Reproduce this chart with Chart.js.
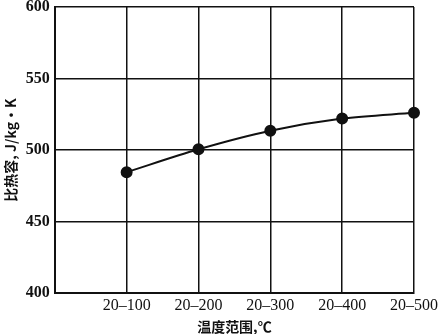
<!DOCTYPE html>
<html>
<head>
<meta charset="utf-8">
<script src="https://cdn.jsdelivr.net/npm/chart.js@4"></script>
<style>
  html, body { margin: 0; padding: 0; background: #fff; }
  #box { width: 440px; height: 334px; }
</style>
</head>
<body>
<div id="box"><canvas id="HeatChart"></canvas></div>
<script>
// temperature ranges (first slot is the empty left edge of the plot)
var ranges = ['', '20\u2013100', '20\u2013200', '20\u2013300', '20\u2013400', '20\u2013500'];
var heat = [null, 484.5, 500.5, 513.5, 522, 526];
var yTicks = [400, 450, 500, 550, 600];

var ctxheat = document.getElementById('HeatChart');
var HeatChart = new Chart(ctxheat, {
    type: 'line',
    data: {
        labels: ranges,
        datasets: [{
            data: heat,
            borderColor: '#111',
            backgroundColor: '#111',
            borderWidth: 2,
            pointRadius: 5,
            pointHoverRadius: 5,
            tension: 0.3,
            spanGaps: true
        }]
    },
    options: {
        responsive: true,
        maintainAspectRatio: false,
        animation: false,
        layout: { padding: { top: 5, right: 0, left: 1, bottom: 0 } },
        plugins: { legend: { display: false }, tooltip: { enabled: false } },
        scales: {
            x: {
                offset: false,
                afterFit: function (s) { s.paddingRight = 26; s.paddingLeft = 0; },
                grid: { color: '#111', lineWidth: 1.5, drawTicks: false },
                border: { color: '#111', width: 2 },
                ticks: {
                    color: '#111', padding: 4, maxRotation: 0, autoSkip: false,
                    font: { family: 'Liberation Serif', size: 16, lineHeight: 1.1 }
                },
                title: {
                    display: true, text: '温度范围,℃', color: '#111', padding: { top: 0, bottom: 0 },
                    font: { family: 'Noto Sans CJK SC', size: 14, weight: 'bold', lineHeight: 1.1 }
                }
            },
            y: {
                min: 400, max: 600,
                afterBuildTicks: function (s) { s.ticks = yTicks.map(function (v) { return { value: v }; }); },
                afterFit: function (s) { s.paddingTop = 0; s.paddingBottom = 0; },
                grid: { color: '#111', lineWidth: 1.5, drawTicks: false },
                border: { color: '#111', width: 2 },
                ticks: {
                    color: '#111', padding: 5,
                    font: { family: 'Liberation Serif', size: 16, weight: 'bold', lineHeight: 1 }
                },
                title: {
                    display: true, text: '比热容, J/kg·K', color: '#111', padding: { top: 1, bottom: 2 },
                    font: { family: 'Noto Sans CJK SC', size: 14, weight: 'bold', lineHeight: 1.2 }
                }
            }
        }
    }
});
</script>
</body>
</html>
